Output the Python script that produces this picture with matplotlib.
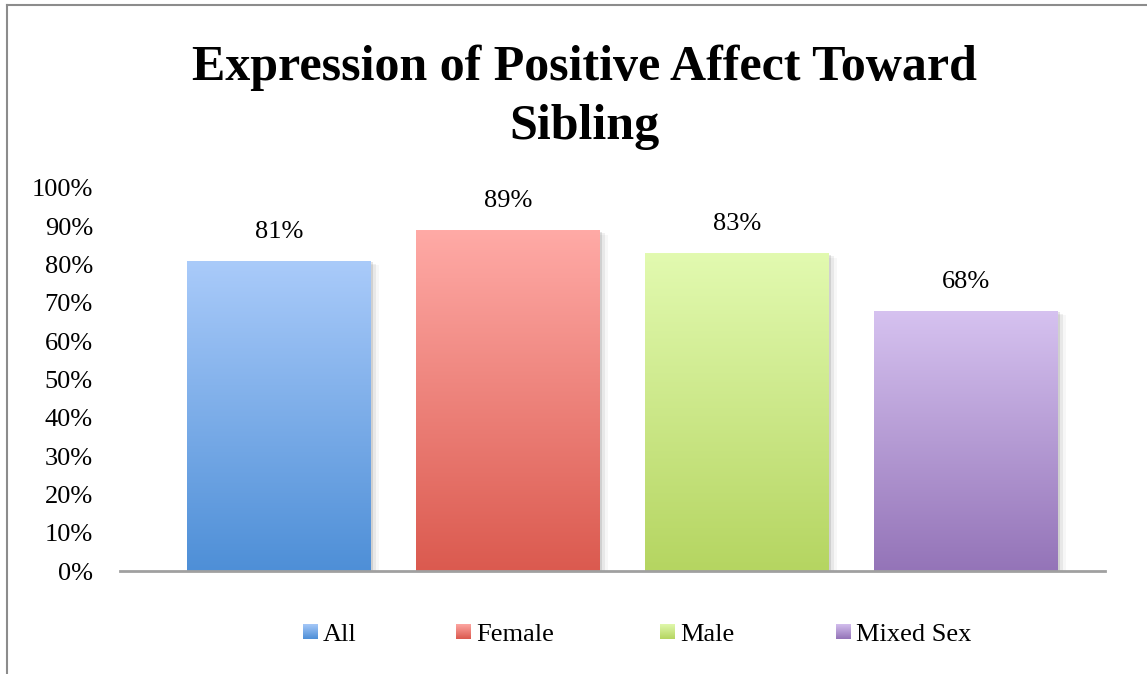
'''
bar chart of positive affect expressed toward sibling, by dyad sex
'''
import numpy as np
import matplotlib.pyplot as plt
from matplotlib.colors import LinearSegmentedColormap
from matplotlib.lines import Line2D

# data
groups = ['All', 'Female', 'Male', 'Mixed Sex']
pct = [0.81, 0.89, 0.83, 0.68]
ticks = np.arange(0, 1.01, 0.1)

# gradient colours per bar (top, bottom)
grad = [('#aacbfa', '#4e8fd7'),
        ('#ffaaa6', '#db5a4f'),
        ('#e2fab0', '#b5d561'),
        ('#d6c2f0', '#9474b8')]

plt.rcParams['font.family'] = ['Liberation Serif', 'DejaVu Serif']

W, H = 1147, 674
fig = plt.figure(figsize=(W / 100, H / 100), dpi=100)

# outer frame (top and left edges only visible)
fig.add_artist(Line2D([7 / W, 7 / W], [0, 1 - 5 / H], color='#8c8c8c', lw=1.5))
fig.add_artist(Line2D([7 / W, 1], [1 - 5 / H, 1 - 5 / H], color='#8c8c8c', lw=1.5))

ax = fig.add_axes([120 / W, (H - 571) / H, 985 / W, 383 / H])
x = np.arange(len(groups))
bw = 0.80
bars = ax.bar(x, pct, width=bw, color='none', edgecolor='none', zorder=3)

# vertical gradient fill clipped to each bar
for b, (top, bot) in zip(bars, grad):
    cmap = LinearSegmentedColormap.from_list('g', [bot, top])
    x0, y0 = b.get_x(), b.get_y()
    w, h = b.get_width(), b.get_height()
    # soft shadow
    for k, a in enumerate([0.10, 0.06, 0.03]):
        off = 0.004 * (k + 1)
        ax.add_patch(plt.Rectangle((x0 + off * 3, y0 - off), w, h, color='k',
                                   alpha=a, lw=0, zorder=1))
    img = ax.imshow(np.linspace(0, 1, 256).reshape(-1, 1), cmap=cmap,
                    origin='lower', aspect='auto',
                    extent=(x0, x0 + w, y0, y0 + h), zorder=2)
    img.set_clip_path(b)
    ax.annotate(f'{round(b.get_height() * 100)}%', (b.get_x() + w / 2, h),
                xytext=(0, 29), textcoords='offset pixels',
                ha='center', va='center', fontsize=19)

ax.set_xlim(-0.694, 3.607)
ax.set_ylim(0, 1)
ax.set_yticks(ticks)
ax.set_yticklabels([f'{int(round(t * 100))}%' for t in ticks], fontsize=19)
ax.tick_params(axis='y', length=0, pad=19.5)
ax.set_xticks([])
for s in ['top', 'right', 'left']:
    ax.spines[s].set_visible(False)
ax.spines['bottom'].set_color('#a0a0a0')
ax.spines['bottom'].set_linewidth(2)
ax.spines['bottom'].set_zorder(4)

fig.text(584 / W, 1 - 97 / H, 'Expression of Positive Affect Toward\nSibling',
         ha='center', va='center', fontsize=36, fontweight='bold',
         linespacing=1.38)

# legend along the bottom
sq_x = [303, 456, 660, 836]
for gx, name, (top, bot) in zip(sq_x, groups, grad):
    cmap = LinearSegmentedColormap.from_list('g', [bot, top])
    lax = fig.add_axes([gx / W, (H - 639) / H, 15 / W, 15 / H])
    lax.imshow(np.linspace(0, 1, 64).reshape(-1, 1), cmap=cmap,
               origin='lower', aspect='auto')
    lax.axis('off')
    fig.text((gx + 20) / W, 1 - 635 / H, name, ha='left', va='center', fontsize=19)

fig.savefig('out.png', dpi=100, facecolor='white')
